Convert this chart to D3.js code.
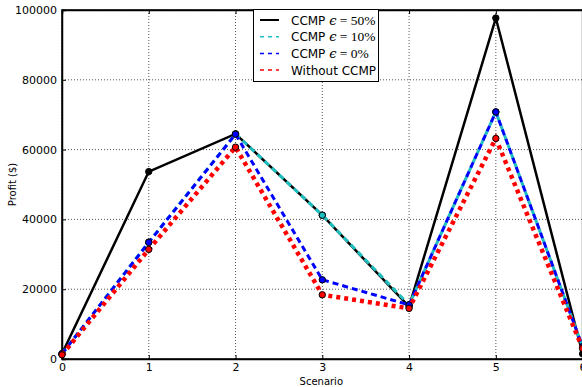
<!DOCTYPE html>
<html>
<head>
<meta charset="utf-8">
<script src="https://cdn.jsdelivr.net/npm/d3@7"></script>
<style>
  body { margin: 0; background: #fff; }
  text { font-family: "DejaVu Sans", sans-serif; }
</style>
</head>
<body>
<div id="canvas"></div>
<script>
"use strict"

let scenarios = [0, 1, 2, 3, 4, 5, 6];
let ccmp50 = [1500, 53700, 64500, 41200, 15000, 97700, 1500];
let ccmp10 = [1500, 33500, 64500, 41200, 15500, 70800, 3500];
let ccmp0 = [1500, 33400, 64400, 22700, 15500, 70800, 3500];
let without = [1200, 31400, 60700, 18400, 14500, 63200, 3000];
let yTicks = [0, 20000, 40000, 60000, 80000, 100000];
let seriesNames = ["50%", "10%", "0%", "Without CCMP"];

let drawingWidth = 582;
let drawingHeight = 387;
let plotLeft = 62, plotRight = 582.6, plotTop = 10, plotBottom = 359;

let drawing = d3.select("#canvas")
    .append("svg")
    .attr("width", drawingWidth)
    .attr("height", drawingHeight);

let x = d3.scaleLinear().domain([0, 6]).range([plotLeft, plotRight]);
let y = d3.scaleLinear().domain([0, 100000]).range([plotBottom, plotTop]);

/* grid lines */
drawing.append("g")
    .selectAll("line")
    .data(scenarios)
    .join("line")
    .attr("x1", d => x(d)).attr("x2", d => x(d))
    .attr("y1", plotTop).attr("y2", plotBottom)
    .attr("stroke", "#555").attr("stroke-width", 1)
    .attr("stroke-dasharray", "1,2");

drawing.append("g")
    .selectAll("line")
    .data(yTicks)
    .join("line")
    .attr("x1", plotLeft).attr("x2", plotRight)
    .attr("y1", d => y(d)).attr("y2", d => y(d))
    .attr("stroke", "#555").attr("stroke-width", 1)
    .attr("stroke-dasharray", "1,2");

/* axes with inward ticks */
let xAxis = drawing.append("g")
    .attr("transform", `translate(0,${plotBottom})`)
    .call(d3.axisBottom(x).tickValues(scenarios).tickSize(-4).tickPadding(4).tickFormat(d3.format("d")));
let yAxis = drawing.append("g")
    .attr("transform", `translate(${plotLeft},0)`)
    .call(d3.axisLeft(y).tickValues(yTicks).tickSize(-4).tickPadding(5).tickFormat(d3.format("d")));
drawing.append("g")
    .attr("transform", `translate(0,${plotTop})`)
    .call(d3.axisTop(x).tickValues(scenarios).tickSize(-4).tickFormat(""));

[xAxis, yAxis].forEach(a => {
    a.selectAll("text").attr("font-size", 11).attr("fill", "#000")
        .attr("font-family", "DejaVu Sans");
});
drawing.selectAll(".domain").attr("stroke", "#000").attr("stroke-width", 1.5);

drawing.append("rect")
    .attr("x", plotLeft).attr("y", plotTop)
    .attr("width", plotRight - plotLeft).attr("height", plotBottom - plotTop)
    .attr("fill", "none").attr("stroke", "#000").attr("stroke-width", 1.5);

/* labels */
drawing.append("text")
    .attr("x", (plotLeft + plotRight) / 2 - 1).attr("y", 385)
    .attr("text-anchor", "middle").attr("font-size", 10)
    .text("Scenario");
drawing.append("text")
    .attr("transform", `translate(16,${(plotTop + plotBottom) / 2}) rotate(-90)`)
    .attr("text-anchor", "middle").attr("font-size", 10)
    .text("Profit ($)");

/* series */
let series = [
    { values: ccmp50, color: "#000", width: 2.5, dash: null, fill: "#000" },
    { values: ccmp10, color: "#1fbfbf", width: 3, dash: "6,4", fill: "#1fbfbf" },
    { values: ccmp0, color: "#0000ff", width: 3, dash: "6,4", fill: "#0000ff" },
    { values: without, color: "#ff0000", width: 4.5, dash: "4,4", fill: "#ff0000" }
];

let line = d3.line().x((d, i) => x(scenarios[i])).y(d => y(d));

let plot = drawing.append("g");
series.forEach(s => {
    plot.append("path")
        .attr("d", line(s.values))
        .attr("fill", "none")
        .attr("stroke", s.color)
        .attr("stroke-width", s.width)
        .attr("stroke-dasharray", s.dash)
        .attr("stroke-linejoin", "miter");
    plot.append("g")
        .selectAll("circle")
        .data(s.values)
        .join("circle")
        .attr("cx", (d, i) => x(scenarios[i]))
        .attr("cy", d => y(d))
        .attr("r", 3.2)
        .attr("fill", s.fill)
        .attr("stroke", "#000")
        .attr("stroke-width", 1);
});

/* legend */
let legend = drawing.append("g");
legend.append("rect")
    .attr("x", 253.5).attr("y", 9.5)
    .attr("width", 125).attr("height", 72)
    .attr("fill", "#fff").attr("stroke", "#000").attr("stroke-width", 1);

series.forEach((s, i) => {
    let ly = 20 + i * 16.7;
    legend.append("line")
        .attr("x1", 260).attr("x2", 279)
        .attr("y1", ly).attr("y2", ly)
        .attr("stroke", s.color)
        .attr("stroke-width", i == 0 ? 2 : 1.5)
        .attr("stroke-dasharray", i == 0 ? null : "4,4");
    let t = legend.append("text")
        .attr("x", 291).attr("y", ly + 4.5)
        .attr("font-size", 12);
    if (i < 3) {
        t.append("tspan").text("CCMP ");
        t.append("tspan").attr("font-family", "DejaVu Serif").attr("font-style", "italic")
            .attr("font-size", 13).text("ϵ");
        t.append("tspan").attr("font-family", "Liberation Serif")
            .attr("font-size", 13.5).text(" = " + seriesNames[i]);
    } else {
        t.text(seriesNames[i]);
    }
});
</script>
</body>
</html>
